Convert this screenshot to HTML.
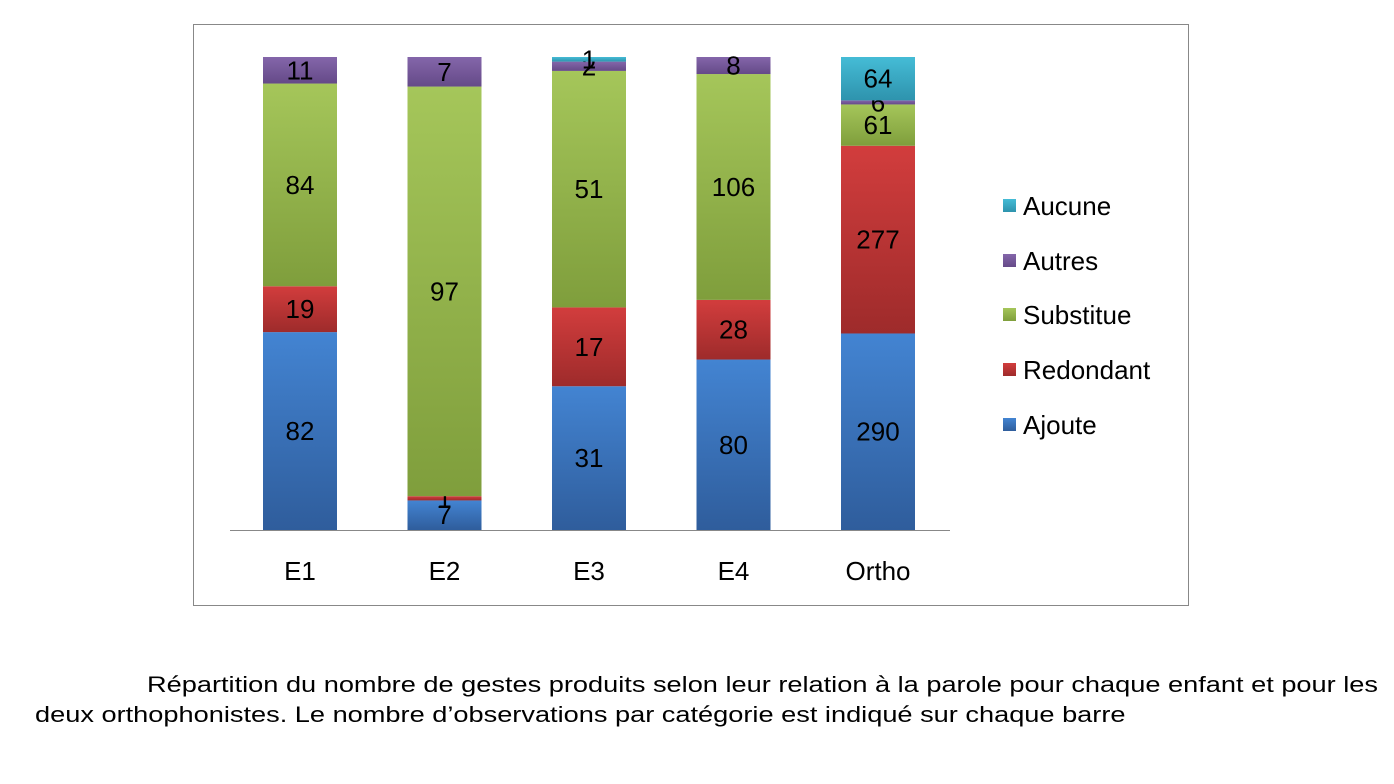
<!DOCTYPE html>
<html><head><meta charset="utf-8"><style>
body{margin:0;background:#fff;width:1394px;height:784px;overflow:hidden;font-family:"Liberation Sans",sans-serif}
.cap{position:absolute;font-size:22px;color:#000;white-space:nowrap;transform:scaleX(1.235);transform-origin:0 0}
</style></head><body>
<svg id="chart" width="1394" height="640" style="position:absolute;left:0;top:0">
<defs>
<linearGradient id="g0" x1="0" y1="0" x2="0" y2="1"><stop offset="0" stop-color="#4384d2"/><stop offset="1" stop-color="#2f5d9c"/></linearGradient>
<linearGradient id="g1" x1="0" y1="0" x2="0" y2="1"><stop offset="0" stop-color="#d23d3d"/><stop offset="1" stop-color="#9e2b2b"/></linearGradient>
<linearGradient id="g2" x1="0" y1="0" x2="0" y2="1"><stop offset="0" stop-color="#a5c65a"/><stop offset="1" stop-color="#7f9e3c"/></linearGradient>
<linearGradient id="g3" x1="0" y1="0" x2="0" y2="1"><stop offset="0" stop-color="#8466aa"/><stop offset="1" stop-color="#654a88"/></linearGradient>
<linearGradient id="g4" x1="0" y1="0" x2="0" y2="1"><stop offset="0" stop-color="#45bcd6"/><stop offset="1" stop-color="#2e93ad"/></linearGradient>
</defs>
<rect x="193.5" y="24.5" width="995" height="581" fill="none" stroke="#888" stroke-width="1"/>
<g id="bars"></g>
<line x1="230" y1="530.5" x2="950" y2="530.5" stroke="#888" stroke-width="1"/>
<g id="legend"></g>
</svg>
<div class="cap" style="left:147px;top:672px">Répartition du nombre de gestes produits selon leur relation à la parole pour chaque enfant et pour les</div>
<div class="cap" style="left:35px;top:702px">deux orthophonistes. Le nombre d’observations par catégorie est indiqué sur chaque barre</div>
<script>
const categories=["E1","E2","E3","E4","Ortho"];
const seriesNames=["Ajoute","Redondant","Substitue","Autres","Aucune"];
const ajoute=[82,7,31,80,290];
const redondant=[19,1,17,28,277];
const substitue=[84,97,51,106,61];
const autres=[11,7,2,8,6];
const aucune=[0,0,1,0,64];
const series=[ajoute,redondant,substitue,autres,aucune];
const NS="http://www.w3.org/2000/svg";
const top0=57,base=530,x0=263,step=144.5,bw=74;
const yScale=f=>base-f*(base-top0);
const xScale=i=>x0+i*step;
const g=document.getElementById('bars');
function mk(t,a){const e=document.createElementNS(NS,t);for(const k in a)e.setAttribute(k,a[k]);return e;}
categories.forEach((c,i)=>{
  const total=series.reduce((s,a)=>s+a[i],0);
  let cum=0;
  series.forEach((arr,si)=>{
    const v=arr[i]; if(!v)return;
    const y1=yScale(cum/total), y2=yScale((cum+v)/total);
    cum+=v;
    const r=mk('rect',{x:xScale(i),y:y2,width:bw,height:y1-y2,fill:'url(#g'+si+')'});
    
    
    g.appendChild(r);
    const t=mk('text',{x:xScale(i)+bw/2,y:(y1+y2)/2+9,'text-anchor':'middle','font-size':'26','fill':'#000'});
    
    
    t.textContent=v; g.appendChild(t);
  });
  const l=mk('text',{x:xScale(i)+bw/2,y:580,'text-anchor':'middle','font-size':'26','fill':'#000'});
  
  
  l.textContent=c; g.appendChild(l);
});
const lg=document.getElementById('legend');
const ly=[425,370,315,261,206];
seriesNames.forEach((n,si)=>{
  const grp=mk('g',{});
  
  
  grp.appendChild(mk('rect',{x:1003,y:ly[si]-7,width:13,height:13,fill:'url(#g'+si+')'}));
  const t=mk('text',{x:1023,y:ly[si]+9,'font-size':'26','fill':'#000'});
  t.textContent=n; grp.appendChild(t);
  lg.appendChild(grp);
});
</script>
</body></html>
